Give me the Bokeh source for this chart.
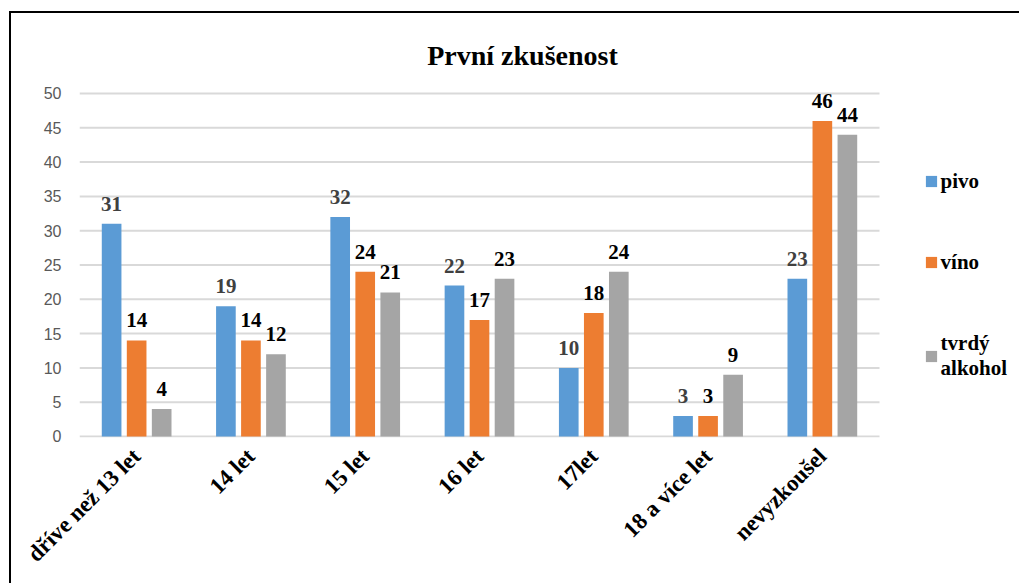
from bokeh.plotting import figure
from bokeh.models import (ColumnDataSource, Range1d, FixedTicker,
                          LabelSet, Label, Legend, LegendItem)
from bokeh.embed import file_html
from bokeh.resources import INLINE
from math import pi

categories = ["dříve než 13 let", "14 let", "15 let", "16 let", "17let", "18 a více let", "nevyzkoušel"]
pivo = [31, 19, 32, 22, 10, 3, 23]
vino = [14, 14, 24, 17, 18, 3, 46]
tvrdy = [4, 12, 21, 23, 24, 9, 44]
series_names = ["pivo", "víno", "tvrdý\nalkohol"]
title_text = "První zkušenost"
y_ticks = [0, 5, 10, 15, 20, 25, 30, 35, 40, 45, 50]

colors = ["#5B9BD5", "#ED7D31", "#A5A5A5"]
label_colors = ["#404040", "#000000", "#000000"]
SERIF = "Liberation Serif"

n = len(categories)
centers = [i + 0.5 for i in range(n)]
offs = [-0.219, 0.0, 0.219]
series = [pivo, vino, tvrdy]

# frame covers (almost) the whole canvas so that title/legend are not clipped
p = figure(width=1010, height=572, output_backend="svg", toolbar_location=None,
           x_range=Range1d(0, 8.2425), y_range=Range1d(-0.146, 61.66),
           min_border_left=68, min_border_right=0, min_border_top=0, min_border_bottom=148)
p.styles = {"border-left": "2px solid black", "border-top": "2px solid black",
            "margin-top": "11px", "margin-left": "9px"}
p.outline_line_color = None
p.background_fill_color = "white"
p.border_fill_color = "white"
p.xgrid.grid_line_color = None
p.ygrid.grid_line_color = None

# horizontal gridlines limited to the category area
p.segment(x0=[0] * len(y_ticks), x1=[n] * len(y_ticks), y0=y_ticks, y1=y_ticks,
          line_color="#D9D9D9", line_width=2)

renderers = []
for vals, o, c, lc in zip(series, offs, colors, label_colors):
    src = ColumnDataSource(dict(x=[cx + o for cx in centers], top=vals,
                                txt=[str(v) for v in vals]))
    r = p.vbar(x="x", top="top", width=0.172, bottom=0, source=src,
               fill_color=c, line_color=None)
    renderers.append(r)
    p.add_layout(LabelSet(x="x", y="top", text="txt", source=src,
                          y_offset=13, text_align="center", text_baseline="bottom",
                          text_font=SERIF, text_font_style="bold", text_font_size="21px",
                          text_color=lc))

p.yaxis.ticker = FixedTicker(ticks=y_ticks)
p.yaxis.axis_line_color = None
p.yaxis.major_tick_line_color = None
p.yaxis.minor_tick_line_color = None
p.yaxis.major_label_text_font = "Liberation Sans"
p.yaxis.major_label_text_font_size = "16px"
p.yaxis.major_label_text_color = "#595959"
p.yaxis.major_label_standoff = 12

p.xaxis.ticker = FixedTicker(ticks=centers)
p.xaxis.major_label_overrides = {cx: cat for cx, cat in zip(centers, categories)}
p.xaxis.axis_line_color = None
p.xaxis.major_tick_line_color = None
p.xaxis.minor_tick_line_color = None
p.xaxis.major_label_orientation = pi / 4
p.xaxis.major_label_text_font = SERIF
p.xaxis.major_label_text_font_style = "bold"
p.xaxis.major_label_text_font_size = "23px"
p.xaxis.major_label_text_color = "#000000"
p.xaxis.major_label_standoff = 9

p.add_layout(Label(x=3.876, y=55.54, text=title_text, text_align="center",
                   text_baseline="alphabetic", text_font=SERIF, text_font_style="bold",
                   text_font_size="28px", text_color="#000000"))

legend = Legend(items=[LegendItem(label=s, renderers=[r]) for s, r in zip(series_names, renderers)],
                location=(844.6, 56.5), orientation="vertical", glyph_width=14, glyph_height=14,
                label_height=14, spacing=56, label_standoff=3, padding=0, margin=0,
                border_line_color=None, background_fill_alpha=0,
                label_text_font=SERIF, label_text_font_style="bold", label_text_font_size="21px",
                label_text_color="#000000")
p.add_layout(legend, "center")

open("out.html", "w").write(file_html(p, INLINE))
